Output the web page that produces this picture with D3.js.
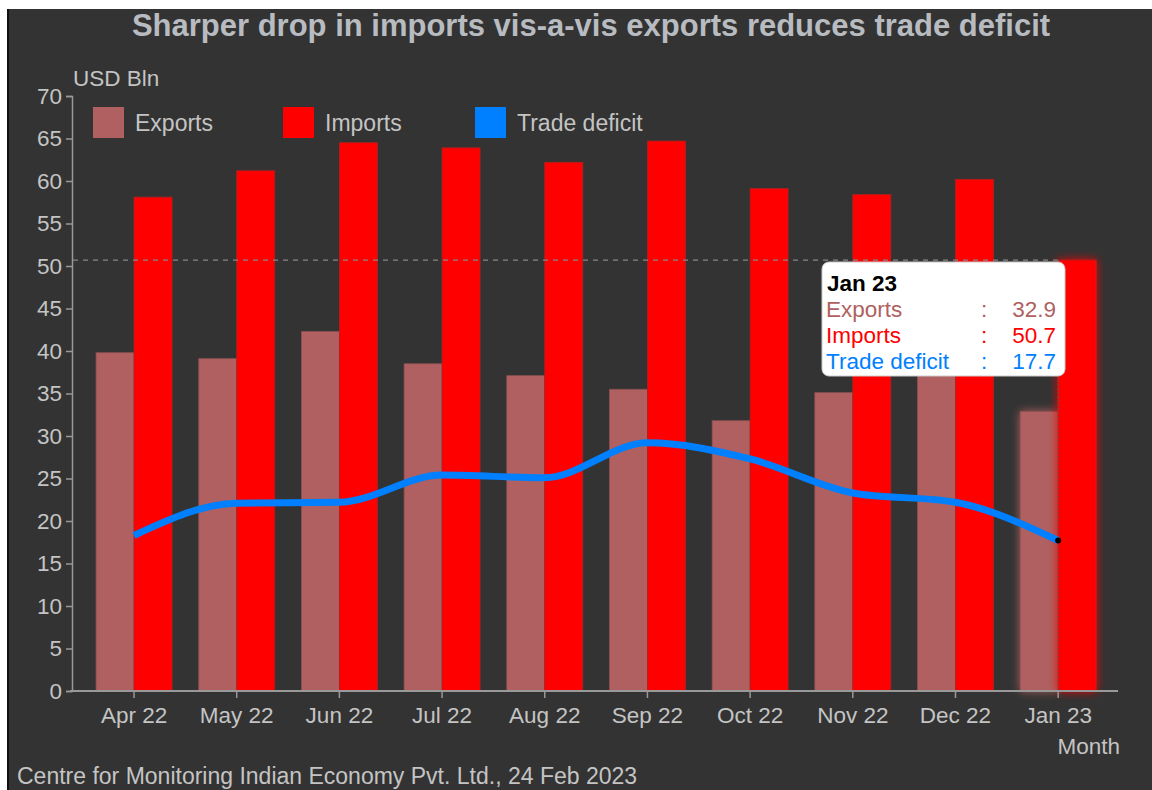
<!doctype html>
<html lang="en">
  <head>
    <meta charset="utf-8">
    <script src="https://cdnjs.cloudflare.com/ajax/libs/d3/7.8.5/d3.min.js"></script>
    <style>
    body { margin: 0; background: #fff; }
    text { font-family: "Liberation Sans", Arial, sans-serif; }
    </style>
    <title>Trade deficit</title>
  </head>
  <body>
    <div id="my_dataviz"></div>
    <script>
        // data
        var months = ["Apr 22", "May 22", "Jun 22", "Jul 22", "Aug 22", "Sep 22", "Oct 22", "Nov 22", "Dec 22", "Jan 23"];
        var exportsVals = [39.8, 39.1, 42.3, 38.5, 37.1, 35.5, 31.8, 35.1, 38.0, 32.9];
        var importsVals = [58.1, 61.2, 64.5, 63.9, 62.2, 64.7, 59.1, 58.4, 60.2, 50.7];
        var deficitVals = [18.3, 22.1, 22.2, 25.4, 25.1, 29.2, 27.3, 23.3, 22.2, 17.7];
        var yTicks = [0, 5, 10, 15, 20, 25, 30, 35, 40, 45, 50, 55, 60, 65, 70];

        var W = 1152, H = 790;
        var textCol = "#c4c4c4";
        var expCol = "#b06060", impCol = "#ff0000", defCol = "#0080ff";
        var fs = 22.5;

        var svg = d3.select("#my_dataviz").append("svg")
            .attr("width", W).attr("height", H);

        // frame
        svg.append("rect").attr("x", 7).attr("y", 9).attr("width", W - 7).attr("height", H - 9).attr("fill", "#333333");
        svg.append("rect").attr("x", 7).attr("y", 9).attr("width", 2).attr("height", H - 9).attr("fill", "#111");

        var defs = svg.append("defs");
        var glow = defs.append("filter").attr("id", "glow")
            .attr("x", "-50%").attr("y", "-10%").attr("width", "200%").attr("height", "120%");
        glow.append("feGaussianBlur").attr("in", "SourceGraphic").attr("stdDeviation", 5).attr("result", "b");
        var m = glow.append("feMerge");
        m.append("feMergeNode").attr("in", "b");
        m.append("feMergeNode").attr("in", "SourceGraphic");

        var x = d3.scaleBand().domain(months).range([82.7, 1109.5]).padding(0);
        var y = d3.scaleLinear().domain([0, 70]).range([691, 96]);
        var barW = 38;
        var cx = function(m) { return x(m) + x.bandwidth() / 2; };

        // title
        svg.append("text").attr("x", 591).attr("y", 36).attr("text-anchor", "middle")
            .attr("font-size", 31).attr("font-weight", "bold").attr("fill", "#b8bcc0")
            .text("Sharper drop in imports vis-a-vis exports reduces trade deficit");

        // y axis
        var yAxis = svg.append("g").attr("transform", "translate(72,0)")
            .call(d3.axisLeft(y).tickValues(yTicks).tickSize(6).tickPadding(4));
        yAxis.select(".domain").attr("stroke", "#999").attr("stroke-width", 1.5);
        yAxis.selectAll(".tick line").attr("stroke", "#999").attr("stroke-width", 1.5);
        yAxis.selectAll(".tick text").attr("fill", textCol).attr("font-size", fs)
            .attr("font-family", "Liberation Sans, Arial, sans-serif");

        svg.append("text").attr("x", 73).attr("y", 86).attr("font-size", fs).attr("fill", textCol).text("USD Bln");

        // bars
        var jan = months[months.length - 1];
        svg.selectAll(".exp").data(months).enter().append("rect")
            .attr("class", "exp")
            .attr("x", function(d) { return cx(d) - barW; })
            .attr("y", function(d, i) { return y(exportsVals[i]); })
            .attr("width", barW)
            .attr("height", function(d, i) { return y(0) - y(exportsVals[i]); })
            .attr("fill", expCol).attr("stroke", "#8a5050").attr("stroke-width", 0.8)
            .attr("filter", function(d) { return d === jan ? "url(#glow)" : null; });

        svg.selectAll(".imp").data(months).enter().append("rect")
            .attr("class", "imp")
            .attr("x", function(d) { return cx(d); })
            .attr("y", function(d, i) { return y(importsVals[i]); })
            .attr("width", barW)
            .attr("height", function(d, i) { return y(0) - y(importsVals[i]); })
            .attr("fill", impCol).attr("stroke", "#b02020").attr("stroke-width", 0.8)
            .attr("filter", function(d) { return d === jan ? "url(#glow)" : null; });

        // x axis
        var xAxis = svg.append("g").attr("transform", "translate(0,691)")
            .call(d3.axisBottom(x).tickSize(7).tickPadding(9).tickSizeOuter(0));
        xAxis.select(".domain").attr("d", "M70,0H1118").attr("stroke", "#999").attr("stroke-width", 2);
        xAxis.selectAll(".tick line").attr("stroke", "#999").attr("stroke-width", 1.5);
        xAxis.selectAll(".tick text").attr("fill", textCol).attr("font-size", fs)
            .attr("font-family", "Liberation Sans, Arial, sans-serif");

        svg.append("text").attr("x", 1120).attr("y", 754).attr("text-anchor", "end")
            .attr("font-size", fs).attr("fill", textCol).text("Month");

        // hover guides for Jan 23
        var li = months.length - 1;
        svg.append("line").attr("x1", 73).attr("x2", cx(jan)).attr("y1", y(importsVals[li])).attr("y2", y(importsVals[li]))
            .attr("stroke", "#888").attr("stroke-width", 1.2).attr("stroke-dasharray", "5,5");
        svg.append("line").attr("x1", cx(jan)).attr("x2", cx(jan)).attr("y1", y(importsVals[li])).attr("y2", y(0))
            .attr("stroke", "#555").attr("stroke-width", 1).attr("stroke-dasharray", "2,2");

        // trade deficit line
        var line = d3.line()
            .x(function(d, i) { return cx(months[i]); })
            .y(function(d) { return y(d); })
            .curve(d3.curveMonotoneX);
        svg.append("path").datum(deficitVals).attr("d", line)
            .attr("fill", "none").attr("stroke", defCol).attr("stroke-width", 7);
        svg.append("circle").attr("cx", cx(jan)).attr("cy", y(deficitVals[li])).attr("r", 3).attr("fill", "#000");

        // legend
        var legendItems = [
            { name: "Exports", col: expCol, x: 93 },
            { name: "Imports", col: impCol, x: 283 },
            { name: "Trade deficit", col: defCol, x: 475 }
        ];
        var lg = svg.selectAll(".lg").data(legendItems).enter().append("g")
            .attr("transform", function(d) { return "translate(" + d.x + ",107)"; });
        lg.append("rect").attr("width", 31).attr("height", 31).attr("fill", function(d) { return d.col; });
        lg.append("text").attr("x", 42).attr("y", 24).attr("font-size", 23).attr("fill", textCol)
            .text(function(d) { return d.name; });

        // tooltip
        var tip = svg.append("g").attr("transform", "translate(822,262)");
        tip.append("rect").attr("width", 243).attr("height", 114).attr("rx", 7)
            .attr("fill", "#fff").attr("stroke", "#ccc");
        tip.append("text").attr("x", 5).attr("y", 29).attr("font-size", fs).attr("font-weight", "bold")
            .attr("fill", "#000").text(jan);
        var rows = [
            { name: "Exports", v: exportsVals[li], col: expCol },
            { name: "Imports", v: importsVals[li], col: impCol },
            { name: "Trade deficit", v: deficitVals[li], col: defCol }
        ];
        rows.forEach(function(r, i) {
            var yy = 55 + i * 26;
            tip.append("text").attr("x", 4).attr("y", yy).attr("font-size", fs).attr("fill", r.col).text(r.name);
            tip.append("text").attr("x", 159).attr("y", yy).attr("font-size", fs).attr("fill", r.col).text(":");
            tip.append("text").attr("x", 234).attr("y", yy).attr("font-size", fs).attr("fill", r.col)
                .attr("text-anchor", "end").text(r.v.toFixed(1));
        });

        // source
        svg.append("text").attr("x", 17).attr("y", 784).attr("font-size", 23).attr("fill", textCol)
            .text("Centre for Monitoring Indian Economy Pvt. Ltd., 24 Feb 2023");
    </script>
  </body>
</html>
